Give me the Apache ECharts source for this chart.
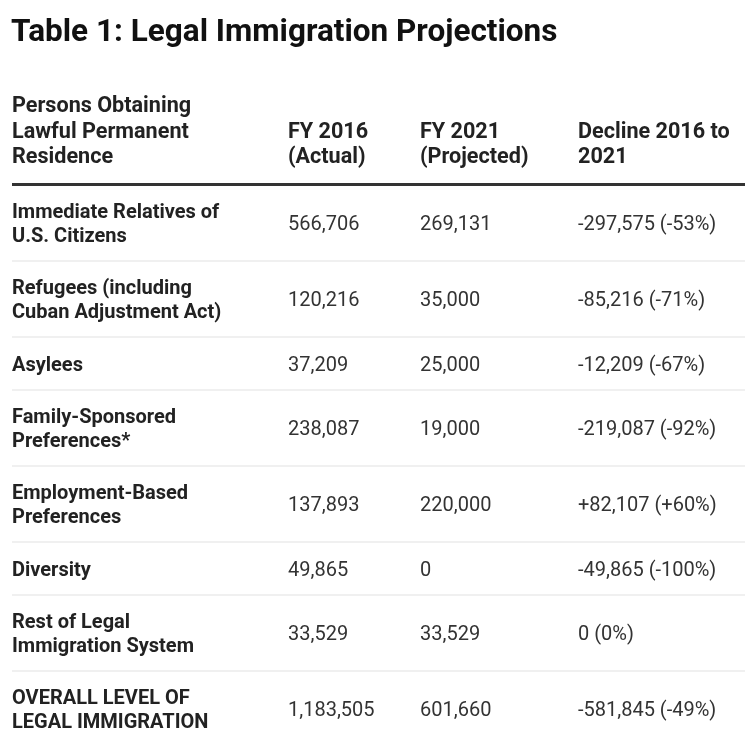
<!DOCTYPE html>
<html>
<head>
<meta charset="utf-8">
<script src="https://cdn.jsdelivr.net/npm/echarts@6/dist/echarts.min.js"></script>
<style>
    html, body { margin: 0; padding: 0; background: #fff; }
    #table-chart { width: 755px; height: 741px; }
</style>
</head>
<body>
<div id="table-chart"></div>
<script>
// table data
var headers = ['Persons Obtaining\nLawful Permanent\nResidence', 'FY 2016\n(Actual)', 'FY 2021\n(Projected)', 'Decline 2016 to\n2021'];
var categories = [
    'Immediate Relatives of\nU.S. Citizens',
    'Refugees (including\nCuban Adjustment Act)',
    'Asylees',
    'Family-Sponsored\nPreferences*',
    'Employment-Based\nPreferences',
    'Diversity',
    'Rest of Legal\nImmigration System',
    'OVERALL LEVEL OF\nLEGAL IMMIGRATION'
];
var fy2016 = [566706, 120216, 37209, 238087, 137893, 49865, 33529, 1183505];
var fy2021 = [269131, 35000, 25000, 19000, 220000, 0, 33529, 601660];
var decline = [-297575, -85216, -12209, -219087, 82107, -49865, 0, -581845];
var declinePct = [-53, -71, -67, -92, 60, -100, 0, -49];

// layout
var colX = [12, 288, 420, 578];
var rightX = 745;
var headLastLine = 158;
var headLineH = 25.5;
var ruleY = 184.5;
var bodyTop = 185;
var lineH = 23.5;
var rowPad = 29;
var textShift = 2;
var font = 'Roboto';

function fmt(v) {
    return v.toLocaleString('en-US');
}
function signed(v) {
    return (v > 0 ? '+' : '') + fmt(v);
}

// row tops from number of label lines
var rowTop = [];
var rowH = [];
var y = bodyTop;
for (var i = 0; i < categories.length; i++) {
    var n = categories[i].split('\n').length;
    rowTop.push(y);
    rowH.push(Math.round(n * lineH + rowPad));
    y += rowH[i];
}

var rowData = [];
for (var i = 0; i < categories.length; i++) {
    rowData.push([i]);
}

var myChart = echarts.init(document.getElementById('table-chart'));
var option = {
    backgroundColor: '#fff',
    animation: false,
    title: {
        text: 'Table 1: Legal Immigration Projections',
        left: 6,
        top: 12,
        textStyle: {
            fontFamily: font,
            fontSize: 31.5,
            fontWeight: 'bold',
            color: '#111'
        }
    },
    grid: { left: 0, right: 0, top: 0, bottom: 0 },
    xAxis: { type: 'value', min: 0, max: 755, show: false },
    yAxis: { type: 'value', min: 0, max: 741, inverse: true, show: false },
    series: [
        {
            // header row + thick rule
            type: 'custom',
            data: [[0]],
            renderItem: function (params, api) {
                var children = [];
                for (var c = 0; c < headers.length; c++) {
                    var lines = headers[c].split('\n');
                    for (var k = 0; k < lines.length; k++) {
                        var p = api.coord([colX[c], headLastLine - (lines.length - 1 - k) * headLineH]);
                        children.push({
                            type: 'text',
                            style: {
                                x: p[0], y: p[1],
                                text: lines[k],
                                fill: '#222',
                                font: 'bold 21.6px ' + font,
                                textAlign: 'left',
                                textVerticalAlign: 'middle'
                            }
                        });
                    }
                }
                var a = api.coord([colX[0], ruleY]);
                var b = api.coord([rightX, ruleY]);
                children.push({
                    type: 'line',
                    shape: { x1: a[0], y1: a[1], x2: b[0], y2: b[1] },
                    style: { stroke: '#333', lineWidth: 3 }
                });
                return { type: 'group', children: children };
            }
        },
        {
            // body rows
            type: 'custom',
            data: rowData,
            renderItem: function (params, api) {
                var r = api.value(0);
                var mid = rowTop[r] + rowH[r] / 2 + textShift;
                var cells = [categories[r], fmt(fy2016[r]), fmt(fy2021[r]),
                    signed(decline[r]) + ' (' + signed(declinePct[r]) + '%)'];
                var children = [];
                for (var c = 0; c < cells.length; c++) {
                    var p = api.coord([colX[c], mid]);
                    children.push({
                        type: 'text',
                        style: {
                            x: p[0], y: p[1],
                            text: cells[c],
                            fill: c === 0 ? '#222' : '#333',
                            font: (c === 0 ? 'bold ' : '') + '20px ' + font,
                            lineHeight: lineH,
                            textAlign: 'left',
                            textVerticalAlign: 'middle'
                        }
                    });
                }
                if (r < categories.length - 1) {
                    var a = api.coord([colX[0], rowTop[r] + rowH[r]]);
                    var b = api.coord([rightX, rowTop[r] + rowH[r]]);
                    children.push({
                        type: 'line',
                        shape: { x1: a[0], y1: a[1], x2: b[0], y2: b[1] },
                        style: { stroke: '#ebebeb', lineWidth: 1.5 }
                    });
                }
                return { type: 'group', children: children };
            }
        }
    ]
};
myChart.setOption(option);
</script>
</body>
</html>
